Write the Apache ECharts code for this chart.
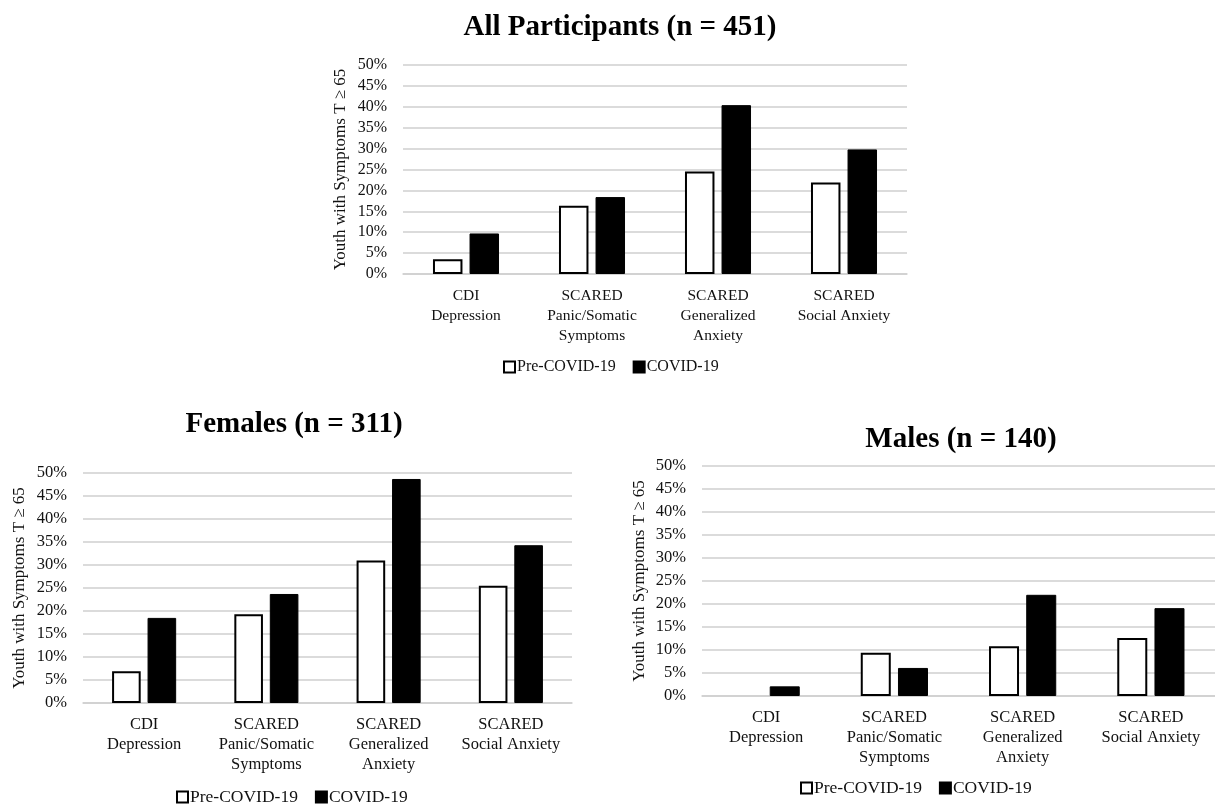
<!DOCTYPE html>
<html>
<head>
<meta charset="utf-8">
<script src="https://cdn.jsdelivr.net/npm/echarts@6/dist/echarts.min.js"></script>
<style>
html,body{margin:0;padding:0;background:#fff;}
#chart{width:1215px;height:805px;}
</style>
</head>
<body>
<div id="chart"></div>
<script>
// ---- data ----
const categories = ["CDI\nDepression", "SCARED\nPanic/Somatic\nSymptoms", "SCARED\nGeneralized\nAnxiety", "SCARED\nSocial Anxiety"];
const seriesNames = ["Pre-COVID-19", "COVID-19"];
const titles = ["All Participants (n = 451)", "Females (n = 311)", "Males (n = 140)"];
const yAxisName = "Youth with Symptoms T \u2265 65";
const allPre = [3.5, 16.3, 24.5, 21.9];
const allCovid = [9.7, 18.4, 40.4, 29.8];
const femalesPre = [6.9, 19.3, 31.0, 25.5];
const femalesCovid = [18.5, 23.7, 48.7, 34.3];
const malesPre = [0, 9.4, 10.8, 12.6];
const malesCovid = [2.1, 6.1, 22.0, 19.1];

const FONT = "Liberation Serif";
const grids = [
  {left: 403, top: 65, width: 504, height: 209},
  {left: 83, top: 473, width: 489, height: 230},
  {left: 702, top: 466, width: 516, height: 230}
];
const titlePos = [{x: 615, y: 8}, {x: 289, y: 405}, {x: 956, y: 420}];
const legendTop = [354, 783, 774];
const legendLeft = [498, 171, 795];
const legendFont = [16, 17.5, 17.5];
const catFont = [15.5, 16.5, 16.5];
const tickFont = [16, 16.5, 16.5];
const nameGaps = [54, 55, 54];
const data = [[allPre, allCovid], [femalesPre, femalesCovid], [malesPre, malesCovid]];

const option = {
  backgroundColor: "#fff",
  animation: false,
  textStyle: {fontFamily: FONT},
  title: titles.map((t, i) => ({
    text: t, left: titlePos[i].x, top: titlePos[i].y, textAlign: "center",
    textStyle: {fontFamily: FONT, fontWeight: "bold", fontSize: 29, color: "#000"}
  })),
  legend: legendTop.map((lt, i) => ({
    data: seriesNames, top: lt, left: legendLeft[i], itemWidth: 11, itemHeight: 11, itemGap: 17,
    icon: "rect",
    textStyle: {fontFamily: FONT, fontSize: legendFont[i], color: "#111", padding: [0, 0, 0, -3]}
  })),
  grid: grids,
  xAxis: grids.map((g, i) => ({
    type: "category", gridIndex: i, data: categories,
    axisLine: {show: true, lineStyle: {color: "#cfcfcf", width: 1.5}},
    axisTick: {show: false},
    axisLabel: {fontFamily: FONT, fontSize: catFont[i], color: "#111", lineHeight: 20, margin: 12, interval: 0}
  })),
  yAxis: grids.map((g, i) => ({
    type: "value", gridIndex: i, min: 0, max: 50, interval: 5,
    name: yAxisName, nameLocation: "middle", nameGap: nameGaps[i], nameRotate: 90,
    nameTextStyle: {fontFamily: FONT, fontSize: 17, color: "#111"},
    axisLine: {show: false}, axisTick: {show: false},
    axisLabel: {fontFamily: FONT, fontSize: tickFont[i], color: "#111", margin: 16, formatter: "{value}%"},
    splitLine: {show: true, lineStyle: {color: "#cfcfcf", width: 1.5}}
  })),
  series: []
};
data.forEach((pair, i) => {
  option.series.push({
    name: seriesNames[0], type: "bar", xAxisIndex: i, yAxisIndex: i,
    data: pair[0].map(v => ({value: v, itemStyle: {borderWidth: v === 0 ? 0 : 2}})),
    barWidth: "23.4%", barGap: "24%",
    itemStyle: {color: "#fff", borderColor: "#000", borderWidth: 2}
  });
  option.series.push({
    name: seriesNames[1], type: "bar", xAxisIndex: i, yAxisIndex: i, data: pair[1],
    barWidth: "23.4%", barGap: "24%",
    itemStyle: {color: "#000", borderColor: "#000", borderWidth: 1}
  });
});
const chart = echarts.init(document.getElementById("chart"));
chart.setOption(option);
</script>
</body>
</html>
